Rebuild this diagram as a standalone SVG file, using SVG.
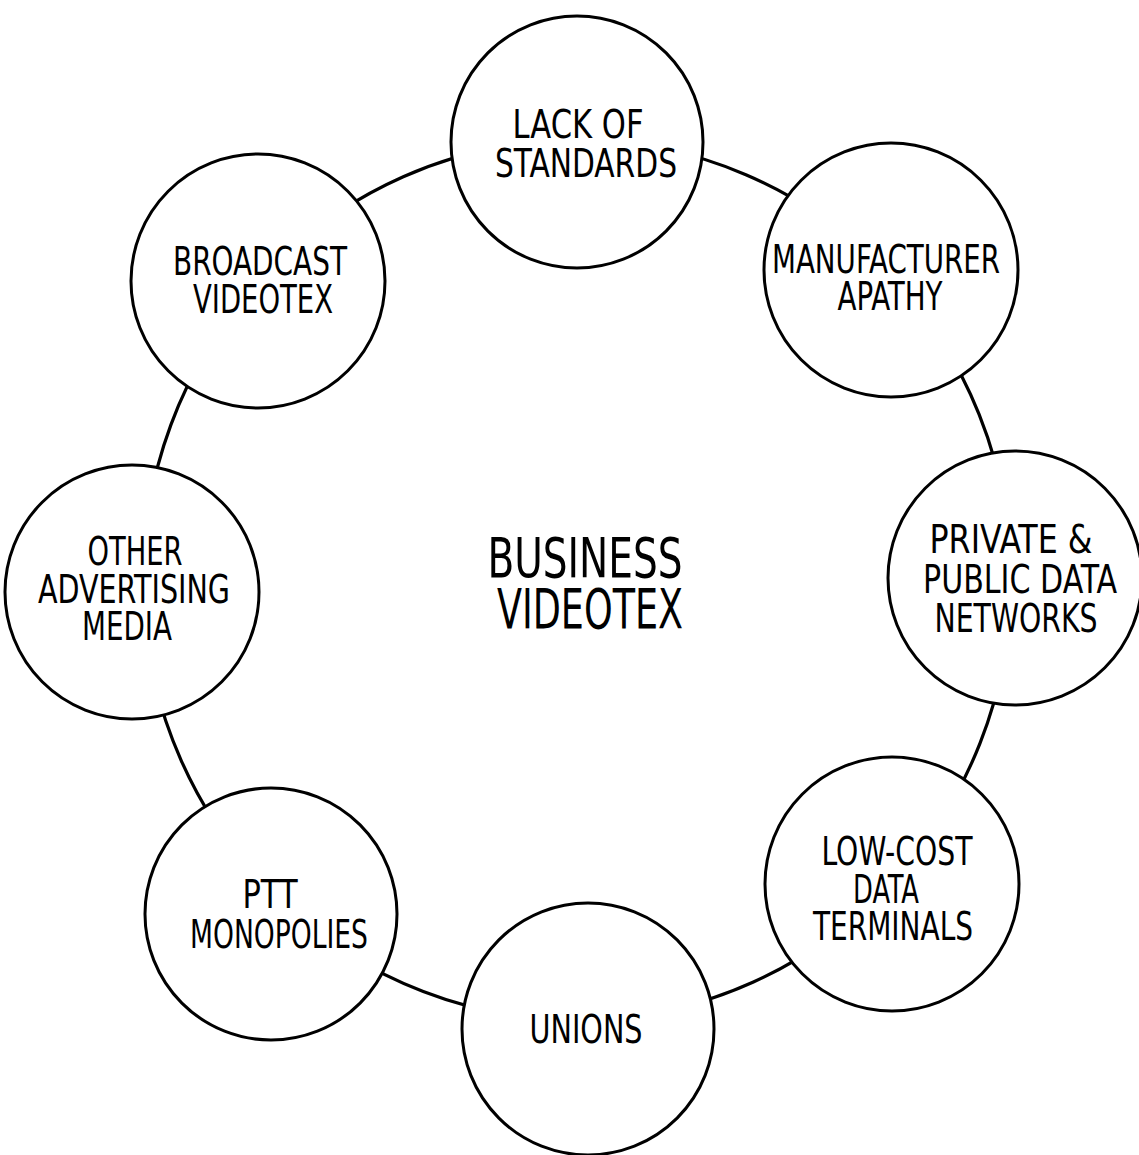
<svg xmlns="http://www.w3.org/2000/svg" width="1139" height="1155" viewBox="0 0 1139 1155">
<style>
.bg{fill:#ffffff}
.ring{fill:none;stroke:#000;stroke-width:3.2;stroke-linecap:round}
.node{fill:#ffffff;stroke:#000;stroke-width:3}
.t{font-family:"Liberation Sans Narrow","DejaVu Sans Condensed","Liberation Sans",sans-serif;font-size:39px;fill:#000;text-anchor:middle}
.big{font-size:56px}
</style>
<rect class="bg" x="0" y="0" width="1139" height="1155"/>
<g id="connectors">
<path class="ring" d="M577,140 A434,440 0 0 1 888.1,273.2"/>
<path class="ring" d="M888.1,273.2 A434,440 0 0 1 1011,580"/>
<path class="ring" d="M1011,580 A434,440 0 0 1 891.3,883.4"/>
<path class="ring" d="M891.3,883.4 A434,440 0 0 1 587.6,1019.9"/>
<path class="ring" d="M587.6,1019.9 A434,440 0 0 1 281.6,902.3"/>
<path class="ring" d="M281.6,902.3 A434,440 0 0 1 143.1,591.5"/>
<path class="ring" d="M143.1,591.5 A434,440 0 0 1 258.6,281.1"/>
<path class="ring" d="M258.6,281.1 A434,440 0 0 1 577,140"/>
</g>
<g id="center">
<text class="t big" x="585" y="577" textLength="195" lengthAdjust="spacingAndGlyphs">BUSINESS</text>
<text class="t big" x="590" y="628" textLength="186" lengthAdjust="spacingAndGlyphs">VIDEOTEX</text>
</g>
<g id="lack-of-standards">
<circle class="node" cx="577" cy="142" r="126"/>
<text class="t" x="578" y="138" textLength="131" lengthAdjust="spacingAndGlyphs">LACK OF</text>
<text class="t" x="586" y="177" textLength="182" lengthAdjust="spacingAndGlyphs">STANDARDS</text>
</g>
<g id="manufacturer-apathy">
<circle class="node" cx="891" cy="270" r="127"/>
<text class="t" x="886" y="273" textLength="228" lengthAdjust="spacingAndGlyphs">MANUFACTURER</text>
<text class="t" x="890" y="310" textLength="105" lengthAdjust="spacingAndGlyphs">APATHY</text>
</g>
<g id="private-public-data-networks">
<circle class="node" cx="1015" cy="578" r="127"/>
<text class="t" x="1011" y="553" textLength="163" lengthAdjust="spacingAndGlyphs">PRIVATE &amp;</text>
<text class="t" x="1020" y="593" textLength="194" lengthAdjust="spacingAndGlyphs">PUBLIC DATA</text>
<text class="t" x="1016" y="632" textLength="163" lengthAdjust="spacingAndGlyphs">NETWORKS</text>
</g>
<g id="low-cost-data-terminals">
<circle class="node" cx="892" cy="884" r="127"/>
<text class="t" x="897" y="865" textLength="151" lengthAdjust="spacingAndGlyphs">LOW-COST</text>
<text class="t" x="886" y="903" textLength="66" lengthAdjust="spacingAndGlyphs">DATA</text>
<text class="t" x="893" y="940" textLength="160" lengthAdjust="spacingAndGlyphs">TERMINALS</text>
</g>
<g id="unions">
<circle class="node" cx="588" cy="1029" r="126"/>
<text class="t" x="586" y="1043" textLength="113" lengthAdjust="spacingAndGlyphs">UNIONS</text>
</g>
<g id="ptt-monopolies">
<circle class="node" cx="271" cy="914" r="126"/>
<text class="t" x="270" y="908" textLength="55" lengthAdjust="spacingAndGlyphs">PTT</text>
<text class="t" x="279" y="948" textLength="178" lengthAdjust="spacingAndGlyphs">MONOPOLIES</text>
</g>
<g id="other-advertising-media">
<circle class="node" cx="132" cy="592" r="127"/>
<text class="t" x="135" y="565" textLength="95" lengthAdjust="spacingAndGlyphs">OTHER</text>
<text class="t" x="134" y="603" textLength="192" lengthAdjust="spacingAndGlyphs">ADVERTISING</text>
<text class="t" x="127" y="640" textLength="90" lengthAdjust="spacingAndGlyphs">MEDIA</text>
</g>
<g id="broadcast-videotex">
<circle class="node" cx="258" cy="281" r="127"/>
<text class="t" x="260" y="275" textLength="174" lengthAdjust="spacingAndGlyphs">BROADCAST</text>
<text class="t" x="263" y="313" textLength="140" lengthAdjust="spacingAndGlyphs">VIDEOTEX</text>
</g>
</svg>
